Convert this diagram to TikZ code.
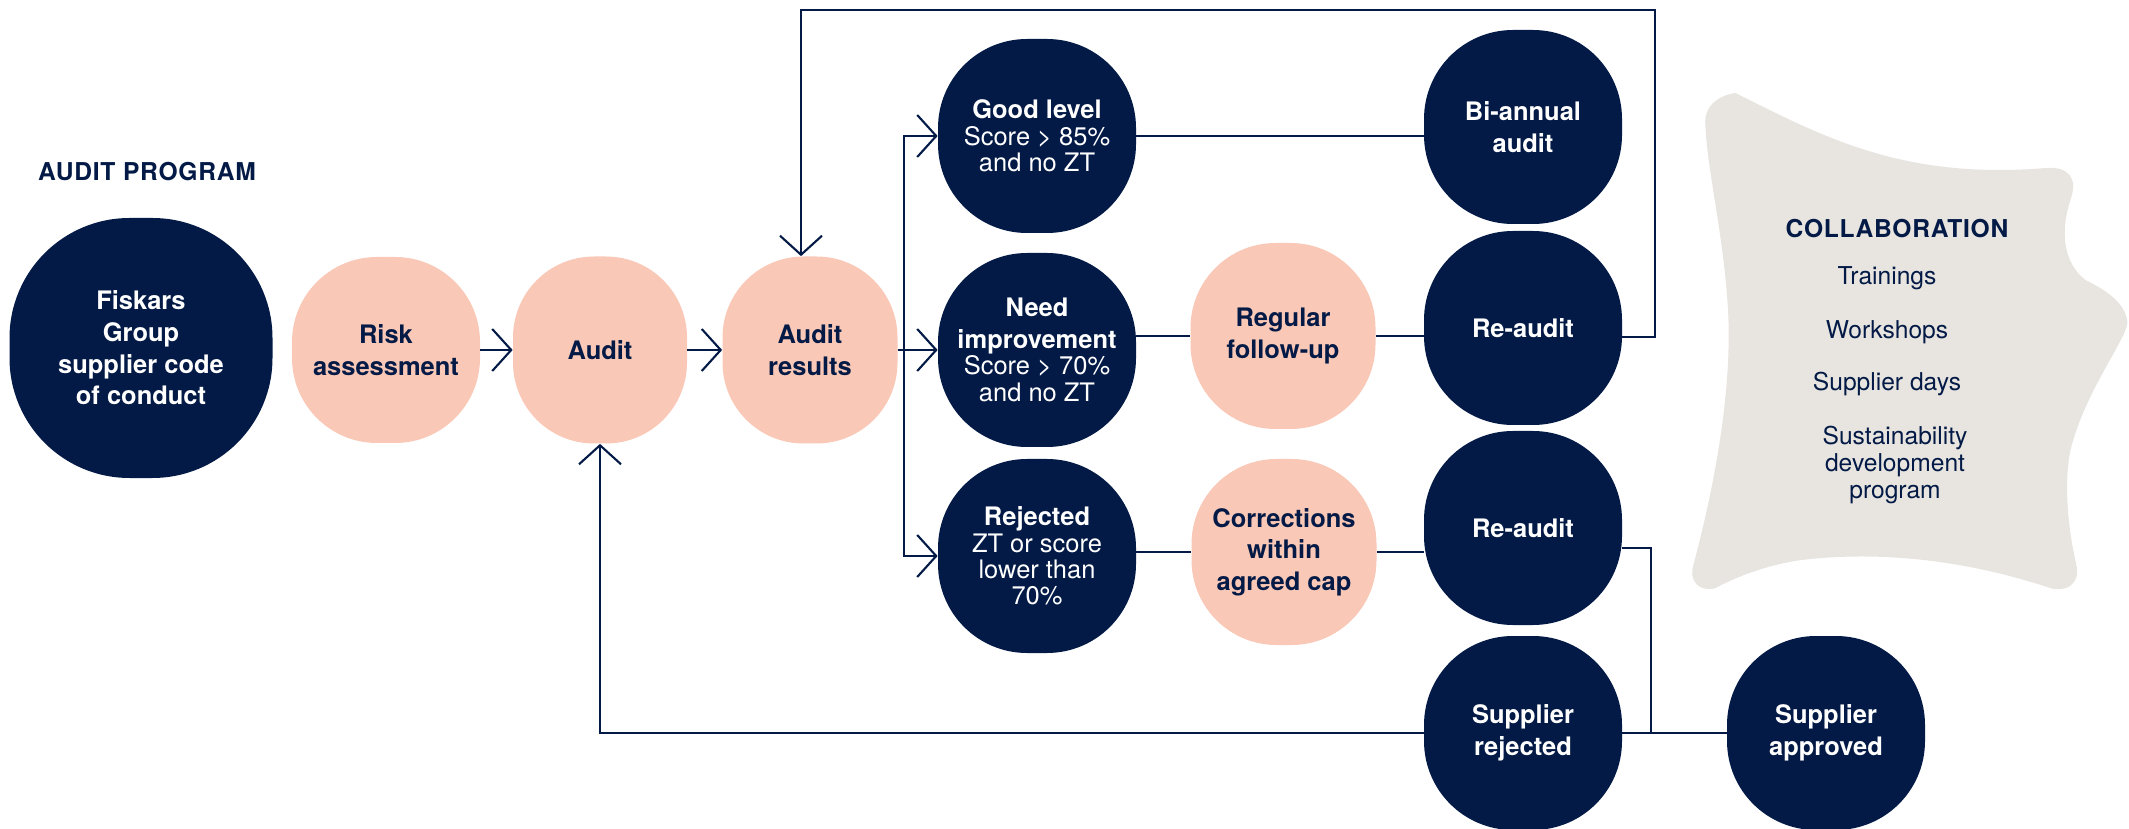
\documentclass[tikz,border=0pt]{standalone}
\usepackage{fontspec}
\setmainfont{TeX Gyre Heros}
\newfontfamily\spacedfont[LetterSpace=3]{TeX Gyre Heros}
\usepackage{tikz}
\usetikzlibrary{arrows.meta}
\definecolor{navy}{HTML}{031A46}
\definecolor{peach}{HTML}{F9C8B6}
\definecolor{cloud}{HTML}{E8E5E0}
\tikzstyle{navyblob} = [rectangle, rounded corners=1.78cm, minimum width=3.96cm, minimum height=3.88cm, align=center, fill=navy, text=white, font=\fontsize{14.5}{18}\selectfont\bfseries]
\tikzstyle{peachblob} = [rectangle, rounded corners=1.7cm, minimum width=3.7cm, minimum height=3.72cm, align=center, fill=peach, text=navy, font=\fontsize{14.5}{18}\selectfont\bfseries]
\tikzstyle{headline} = [text=navy, font=\spacedfont\fontsize{14}{17}\selectfont\bfseries]
\tikzstyle{listitem} = [text=navy, align=center, font=\fontsize{14}{17}\selectfont]
\tikzstyle{arrow} = [draw=navy, line width=1.2pt, -{Straight Barb[length=0.38cm, width=0.84cm]}]
\tikzstyle{link} = [draw=navy, line width=1.2pt]

\begin{document}
\begin{tikzpicture}[node distance=4.2cm]
	\useasboundingbox (0,0) rectangle (42.58,-16.58);
	% collaboration backdrop
	\begin{scope}[x=0.02cm, y=-0.02cm]
		\fill [cloud] (1705,125) .. controls (1703,105) and (1720,95) .. (1735,93)
			.. controls (1820,135) and (1900,180) .. (2045,168)
			.. controls (2068,166) and (2078,178) .. (2070,200)
			.. controls (2060,230) and (2062,262) .. (2085,280)
			.. controls (2110,292) and (2125,305) .. (2127,322)
			.. controls (2127,338) and (2085,390) .. (2070,450)
			.. controls (2062,490) and (2070,540) .. (2076,565)
			.. controls (2080,585) and (2065,592) .. (2050,588)
			.. controls (1990,568) and (1900,548) .. (1800,560)
			.. controls (1760,566) and (1730,580) .. (1715,588)
			.. controls (1700,592) and (1688,582) .. (1693,565)
			.. controls (1705,520) and (1735,400) .. (1727,300)
			.. controls (1722,230) and (1707,170) .. (1705,125) -- cycle;
	\end{scope}
	% audit program
	\node (fisk) [navyblob, minimum width=5.26cm, minimum height=5.2cm, rounded corners=2.4cm] at (2.82,-6.96) {Fiskars\\Group\\supplier code\\of conduct};
	\node (prog) [headline, node distance=3.52cm, above of=fisk, xshift=0.12cm] {AUDIT PROGRAM};
	\node (risk) [peachblob, node distance=4.9cm, right of=fisk, yshift=-0.04cm, minimum width=3.76cm] {Risk\\assessment};
	\node (audit) [peachblob, node distance=4.28cm, right of=risk, minimum width=3.48cm, minimum height=3.74cm, rounded corners=1.62cm] {Audit};
	\node (res) [peachblob, right of=audit, minimum width=3.5cm, minimum height=3.74cm, rounded corners=1.62cm] {Audit\\results};
	\node (need) [navyblob, node distance=4.54cm, right of=res] {Need\\improvement\\[-3pt]\mdseries Score > 70\%\\[-3pt]\mdseries and no ZT};
	\node (good) [navyblob, node distance=4.28cm, above of=need] {Good level\\[-3pt]\mdseries Score > 85\%\\[-3pt]\mdseries and no ZT};
	\node (rej) [navyblob, node distance=4.12cm, below of=need] {Rejected\\[-3pt]\mdseries ZT or score\\[-3pt]\mdseries lower than\\[-3pt]\mdseries 70\%};
	\node (follow) [peachblob, node distance=4.92cm, right of=need, yshift=0.28cm] {Regular\\follow-up};
	\node (corr) [peachblob, node distance=4.94cm, right of=rej, yshift=0.08cm] {Corrections\\within\\agreed cap};
	\node (re1) [navyblob, node distance=4.8cm, right of=follow, yshift=0.16cm] {Re-audit};
	\node (bi) [navyblob, node distance=4.02cm, above of=re1] {Bi-annual\\audit};
	\node (re2) [navyblob, node distance=4.0cm, below of=re1] {Re-audit};
	\node (srej) [navyblob, node distance=4.1cm, below of=re2] {Supplier\\rejected};
	\node (sapp) [navyblob, node distance=6.06cm, right of=srej] {Supplier\\approved};
	% collaboration list
	\node (collab) [headline] at (37.94,-4.58) {COLLABORATION};
	\node (train) [listitem, node distance=0.98cm, below of=collab, xshift=-0.2cm] {Trainings};
	\node (work) [listitem, node distance=1.08cm, below of=train] {Workshops};
	\node (days) [listitem, node distance=1.04cm, below of=work] {Supplier days};
	\node (sdp) [listitem, node distance=1.62cm, below of=days, xshift=0.16cm] {Sustainability\\[-1.7pt]development\\[-1.7pt]program};
	% flow
	\draw [arrow] (risk) -- (audit);
	\draw [arrow] (audit) -- (res);
	\draw [arrow] (res.east) -- ++(0.12,0) |- (good.west);
	\draw [arrow] (res.east) -- (need.west);
	\draw [arrow] (res.east) -- ++(0.12,0) |- (rej.west);
	\draw [link] (good.east) -- (good.east -| bi.west);
	\draw [link] (follow.west -| need.east) -- (follow.west);
	\draw [link] (follow.east) -- (follow.east -| re1.west);
	\draw [link] (corr.west -| rej.east) -- (corr.west);
	\draw [link] (corr.east) -- (corr.east -| re2.west);
	\draw [arrow] ([yshift=-0.18cm]re1.east) -- ++(0.66,0) -- ++(0,6.54) -| ([xshift=-0.18cm]res.north);
	\draw [link] ([yshift=-0.4cm]re2.east) -- ++(0.58,0) |- (sapp.west);
	\draw [link] (srej.east) -- (sapp.west);
	\draw [arrow] (srej.west) -| (audit.south);
\end{tikzpicture}
\end{document}
